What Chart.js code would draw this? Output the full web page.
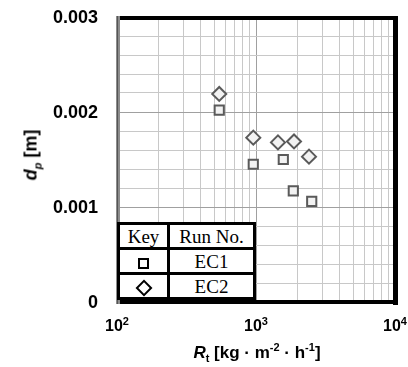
<!DOCTYPE html>
<html>
<head>
<meta charset="utf-8">
<script src="https://cdn.jsdelivr.net/npm/chart.js@4.4.0/dist/chart.umd.min.js"></script>
<style>
  html, body { margin: 0; padding: 0; background: #fff; }
  #wrap { position: relative; width: 408px; height: 367px; overflow: hidden; }
  #chart { position: absolute; left: 0; top: 0; }
  .title { position: absolute; font: bold 17px "Liberation Sans", Arial, sans-serif; color: #000; white-space: nowrap; }
  .title sub, .title sup { font-size: 11px; line-height: 0; }
  #xtitle { left: 117px; width: 280px; top: 343px; text-align: center; }
  #ytitle { left: 31px; top: 155px; transform: translate(-50%, -50%) rotate(-90deg); font-size: 18px; }
  #key { position: absolute; left: 117px; top: 222px; border-collapse: collapse; background: #fff;
         font: 19px "Liberation Serif", "Times New Roman", serif; color: #000; }
  #key td { border: 3px solid #000; text-align: center; padding: 0; line-height: 19px; }
  #key tr { height: 25px; }
  .sq { display: inline-block; width: 7px; height: 7px; border: 2px solid #000; background: #fff; vertical-align: middle; }
  .dm { display: inline-block; width: 8px; height: 8px; border: 2px solid #000; background: #fff; transform: rotate(45deg); vertical-align: middle; }
</style>
</head>
<body>
<div id="wrap">
  <canvas id="chart" width="408" height="367"></canvas>
  <div class="title" id="xtitle"><i>R</i><sub>t</sub> [kg · m<sup>-2</sup> · h<sup>-1</sup>]</div>
  <div class="title" id="ytitle"><i>d</i><sub><i>p</i></sub> [m]</div>
  <table id="key">
    <tr><td style="width:47px">Key</td><td style="width:83px">Run No.</td></tr>
    <tr><td><span class="sq"></span></td><td>EC1</td></tr>
    <tr><td><span class="dm"></span></td><td>EC2</td></tr>
  </table>
</div>
<script>
// run EC1 (squares) and EC2 (diamonds): R_t [kg/m2/h] vs d_p [m]
const ec1X = [544, 956, 1572, 1855, 2517];
const ec1Y = [0.00202, 0.00145, 0.00150, 0.00117, 0.00106];
const ec2X = [544, 956, 1439, 1877, 2406];
const ec2Y = [0.00219, 0.00173, 0.00168, 0.00169, 0.00153];

const xTickExps = [2, 3, 4];
const yTickLabels = ["0", "0.001", "0.002", "0.003"];

// log grid lines 1..9 x 10^n
const xGrid = [];
for (let e = 2; e < 4; e++) {
  for (let m = 1; m < 10; m++) xGrid.push(m * Math.pow(10, e));
}
xGrid.push(10000);

const isMajorY = v => Math.abs(v * 1000 - Math.round(v * 1000)) < 1e-6;
const isMajorX = v => Math.abs(Math.log10(v) - Math.round(Math.log10(v))) < 1e-9;

const toPts = (xs, ys) => xs.map((x, i) => ({ x: x, y: ys[i] }));

const framePlugin = {
  id: "frame",
  afterDraw(chart) {
    const { ctx, chartArea: a, scales } = chart;
    ctx.save();
    // border: grey on the left, heavy black elsewhere
    ctx.fillStyle = "#8c8c8c";
    ctx.fillRect(a.left - 1, a.top - 1, 4, a.bottom - a.top + 3);
    ctx.fillStyle = "#555";
    ctx.fillRect(a.left, a.top - 1, 1, a.bottom - a.top + 3);
    ctx.fillStyle = "#000";
    ctx.fillRect(a.left + 3, a.top - 1, a.right - a.left, 4);
    ctx.fillRect(a.right - 2, a.top - 1, 5, a.bottom - a.top + 4);
    ctx.fillRect(a.left + 3, a.bottom - 2, a.right - a.left, 4);

    // y tick labels
    ctx.fillStyle = "#000";
    ctx.font = 'bold 18px "Liberation Sans", Arial, sans-serif';
    ctx.textAlign = "right";
    ctx.textBaseline = "middle";
    yTickLabels.forEach(t => {
      ctx.fillText(t, a.left - 19, scales.y.getPixelForValue(parseFloat(t)) + 1);
    });

    // x tick labels 10^n
    ctx.textAlign = "left";
    ctx.textBaseline = "alphabetic";
    xTickExps.forEach(e => {
      const px = scales.x.getPixelForValue(Math.pow(10, e));
      ctx.font = 'bold 16px "Liberation Sans", Arial, sans-serif';
      const w1 = ctx.measureText("10").width;
      ctx.font = 'bold 11px "Liberation Sans", Arial, sans-serif';
      const w2 = ctx.measureText(String(e)).width;
      let x0 = px - (w1 + w2) / 2;
      ctx.font = 'bold 16px "Liberation Sans", Arial, sans-serif';
      ctx.fillText("10", x0, 331);
      ctx.font = 'bold 11px "Liberation Sans", Arial, sans-serif';
      ctx.fillText(String(e), x0 + w1, 325);
    });
    ctx.restore();
  }
};

new Chart(document.getElementById("chart"), {
  type: "scatter",
  data: {
    datasets: [
      {
        label: "EC1",
        data: toPts(ec1X, ec1Y),
        pointStyle: "rect",
        pointRadius: 6.5,
        borderWidth: 2,
        borderColor: "#5a5a5a",
        backgroundColor: "#f2f2f2",
      },
      {
        label: "EC2",
        data: toPts(ec2X, ec2Y),
        pointStyle: "rectRot",
        pointRadius: 7,
        borderWidth: 2,
        borderColor: "#5a5a5a",
        backgroundColor: "#f2f2f2",
      },
    ],
  },
  options: {
    responsive: false,
    animation: false,
    layout: { padding: { left: 117, right: 13, top: 17, bottom: 65 } },
    scales: {
      x: {
        type: "logarithmic",
        min: 100,
        max: 10000,
        afterBuildTicks: s => { s.ticks = xGrid.map(v => ({ value: v })); },
        ticks: { display: false },
        border: { display: false },
        grid: {
          drawTicks: false,
          lineWidth: 1,
          color: c => isMajorX(c.tick.value) ? "#a0a0a0" : "#c8c8c8",
        },
      },
      y: {
        min: 0,
        max: 0.003,
        ticks: { display: false, stepSize: 0.0002 },
        border: { display: false },
        grid: {
          drawTicks: false,
          lineWidth: 1,
          color: c => isMajorY(c.tick.value) ? "#a0a0a0" : "#c8c8c8",
        },
      },
    },
    plugins: {
      legend: { display: false },
      tooltip: { enabled: false },
    },
  },
  plugins: [framePlugin],
});
</script>
</body>
</html>
